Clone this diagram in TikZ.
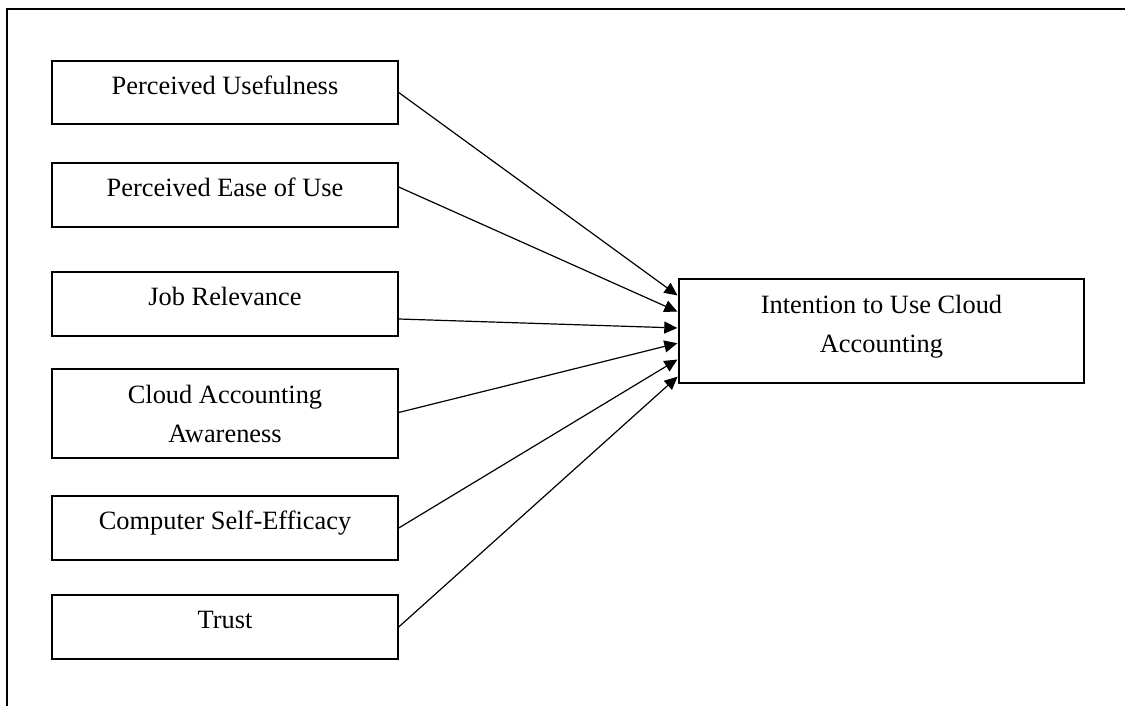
\documentclass[tikz,border=0pt]{standalone}
\usepackage{fontspec}
\setmainfont{Liberation Serif}
\usetikzlibrary{arrows.meta}
\tikzset{
  frameline/.style={line width=1.3pt, line cap=rect},
  box/.style={draw, line width=0.7pt, rectangle, inner sep=0pt, minimum width=173pt},
  lbl/.style={anchor=base, inner sep=0pt, align=center, font=\fontsize{13.2}{19.5}\selectfont},
  conn/.style={line width=0.6pt, -{Triangle[length=6.5pt,width=6pt]}, shorten >=0.5pt}
}
\begin{document}
\begin{tikzpicture}[x=0.5pt,y=-0.5pt]
\useasboundingbox (0,0) rectangle (1125,706);
\coordinate (fa) at (7,706);
\coordinate (fb) at (7,9);
\coordinate (fc) at (1125,9);
\draw[frameline] (fa) -- (fb) -- (fc);

\node[box, minimum height=31.5pt] (b1) at (225,92.5) {};
\node[box, minimum height=32pt] (b2) at (225,195) {};
\node[box, minimum height=32pt] (b3) at (225,304) {};
\node[box, minimum height=44.5pt] (b4) at (225,413.5) {};
\node[box, minimum height=32pt] (b5) at (225,528) {};
\node[box, minimum height=32pt] (b6) at (225,627) {};
\node[box, minimum width=202.5pt, minimum height=52pt] (ib) at (881.5,331) {};

\node[lbl] (t1) at ([yshift=-17pt]b1.north) {Perceived Usefulness};
\node[lbl] (t2) at ([yshift=-17pt]b2.north) {Perceived Ease of Use};
\node[lbl] (t3) at ([yshift=-17pt]b3.north) {Job Relevance};
\node[lbl] (t4) at ([yshift=-37pt]b4.north) {Cloud Accounting\\Awareness};
\node[lbl] (t5) at ([yshift=-17pt]b5.north) {Computer Self-Efficacy};
\node[lbl] (t6) at ([yshift=-17pt]b6.north) {Trust};
\node[lbl] (ti) at ([yshift=-37pt]ib.north) {Intention to Use Cloud\\Accounting};

\draw[conn] ([yshift=0pt]b1.east) -- ([yshift=17.5pt]ib.west);
\draw[conn] ([yshift=4pt]b2.east) -- ([yshift=9.5pt]ib.west);
\draw[conn] ([yshift=-7.5pt]b3.east) -- ([yshift=1.5pt]ib.west);
\draw[conn] ([yshift=0.5pt]b4.east) -- ([yshift=-6pt]ib.west);
\draw[conn] ([yshift=0pt]b5.east) -- ([yshift=-14pt]ib.west);
\draw[conn] ([yshift=0pt]b6.east) -- ([yshift=-22.5pt]ib.west);
\end{tikzpicture}
\end{document}
